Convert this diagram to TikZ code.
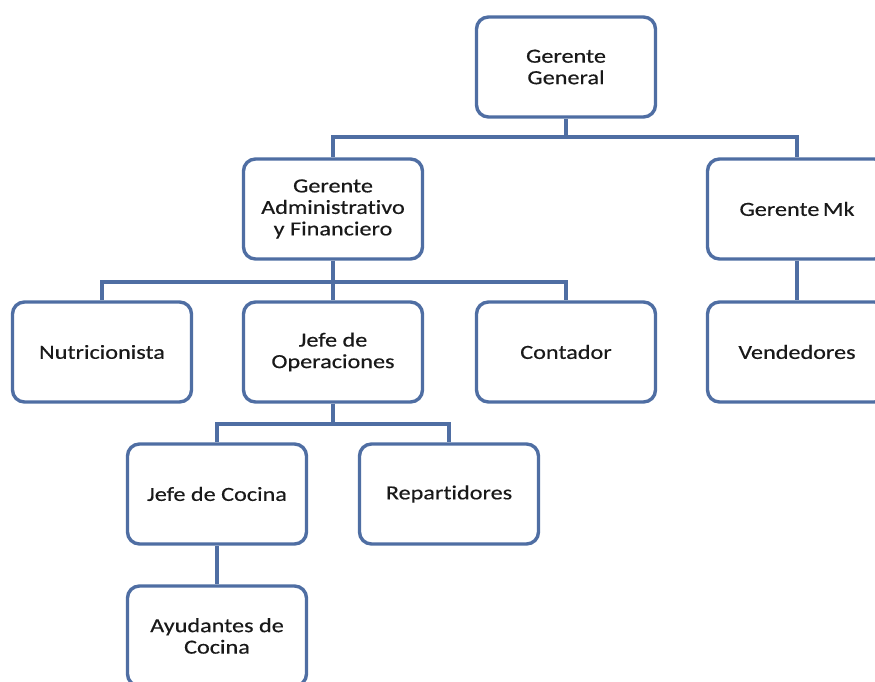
\documentclass[tikz,border=0pt]{standalone}
\usepackage{fontspec}
\setmainfont{Carlito}
\newfontfamily\boxfont[FakeStretch=1.21,FakeBold=0.4,Ligatures={NoCommon}]{Carlito}
\definecolor{boxline}{HTML}{4F6EA3}
\begin{document}
\begin{tikzpicture}[x=1pt,y=-1pt,
  orgbox/.style={draw=boxline, line width=3.4pt, fill=white, rounded corners=12pt,
    minimum width=179pt, minimum height=100pt, align=center,
    font=\boxfont\fontsize{20}{21.5}\selectfont, text=black!90, inner sep=2pt},
  link/.style={draw=boxline, line width=3.4pt}]
\useasboundingbox (0,0) rectangle (875,682);
\clip (0,0) rectangle (875,682);
\node[orgbox] (gg) at (566,67) {Gerente\\General};
\node[orgbox] (ga) at (333,209) {Gerente\\Administrativo\\y Financiero};
\node[orgbox] (gm) at (797,209) {Gerente\hspace{-2pt} Mk};
\node[orgbox] (nu) at (102,352) {Nutricionista};
\node[orgbox] (jo) at (333,352) {Jefe de\\Operaciones};
\node[orgbox] (co) at (566,352) {Contador};
\node[orgbox] (ve) at (797,352) {Vendedores};
\node[orgbox] (jc) at (217,494) {Jefe de Cocina};
\node[orgbox] (re) at (449,494) {Repartidores};
\node[orgbox] (ay) at (217,636) {Ayudantes de\\Cocina};
\coordinate (b1) at (566,137);
\coordinate (b2) at (333,282);
\coordinate (b3) at (333,424);
\draw[link] (gg.south) -- (b1) -| (ga.north);
\draw[link] (b1) -| (gm.north);
\draw[link] (ga.south) -- (b2) -| (nu.north);
\draw[link] (b2) -- (jo.north);
\draw[link] (b2) -| (co.north);
\draw[link] (gm.south) -- (ve.north);
\draw[link] (jo.south) -- (b3) -| (jc.north);
\draw[link] (b3) -| (re.north);
\draw[link] (jc.south) -- (ay.north);
\end{tikzpicture}
\end{document}
